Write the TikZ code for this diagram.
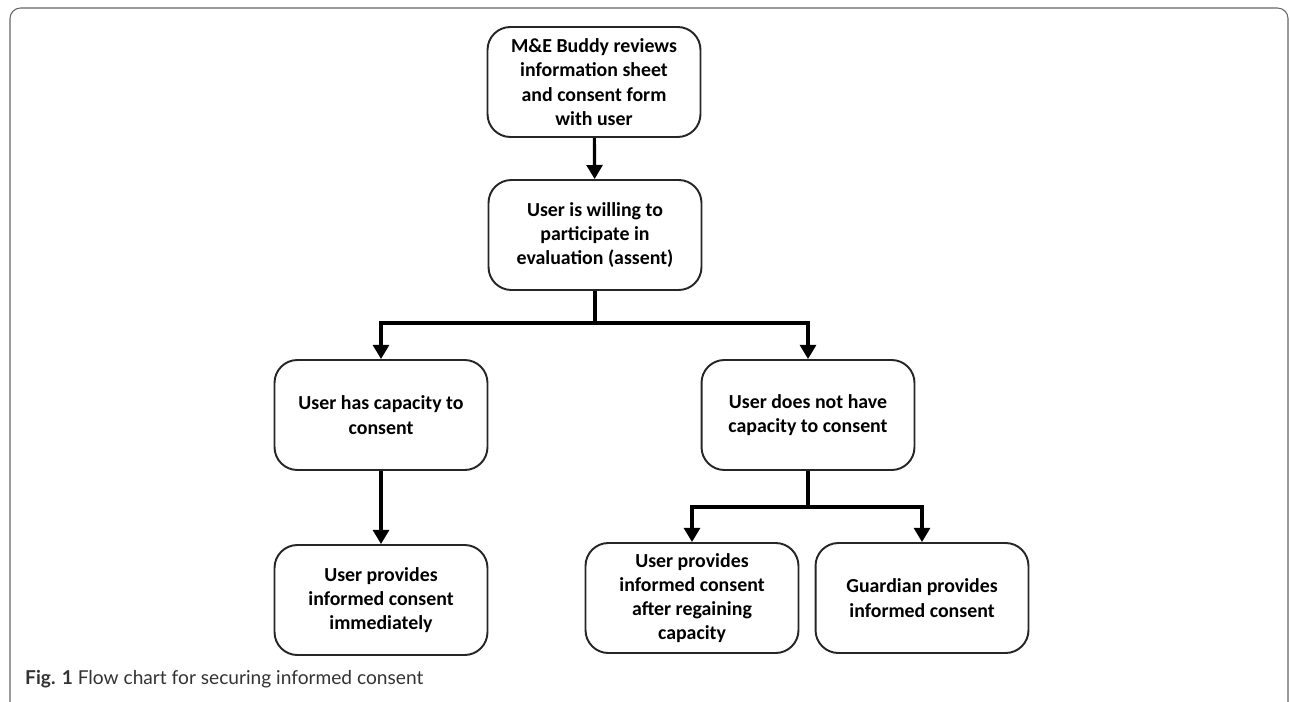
\documentclass[tikz,border=0pt]{standalone}
\usepackage{fontspec}
\setmainfont{Carlito}
\newfontfamily\capfont{Lato}
\usetikzlibrary{arrows.meta,positioning}

\begin{document}
\begin{tikzpicture}[
    x=0.02cm, y=-0.02cm,
    box/.style={rectangle, rounded corners=13pt, draw=black!85, line width=1.1pt,
                minimum width=4.26cm, minimum height=2.2cm,
                align=center, font=\fontsize{11.3pt}{13.8pt}\selectfont\bfseries},
    flow/.style={-{Triangle[width=9pt,length=8pt]}, line width=1.8pt},
    link/.style={line width=1.8pt},
    frame/.style={draw=black!60, line width=0.6pt, rounded corners=6pt}
]
  \useasboundingbox (0,0) rectangle (1290,702);

  % outer frame
  \draw[frame] (10,702) -- (10,8) -- (1288,8) -- (1288,702);

  % top of the chart
  \node[box] (review) at (594,82) {M\&E Buddy reviews\\information sheet\\and consent form\\with user};
  \node[box] (assent) at (595,235) {User is willing to\\participate in\\evaluation (assent)};

  % capacity split
  \node[box] (capable) at (381,415) {User has capacity to\\consent};
  \node[box] (incapable) at (808,415) {User does not have\\capacity to consent};

  % outcomes
  \node[box] (now) at (381,600) {User provides\\informed consent\\immediately};
  \node[box] (later) at (692,598) {User provides\\informed consent\\after regaining\\capacity};
  \node[box] (guardian) at (922,598) {Guardian provides\\informed consent};

  % connectors
  \coordinate (split1) at (595,323);
  \coordinate (split2) at (808,507);

  \draw[flow] (review) -- (assent);
  \draw[link] (assent.south) -- (split1);
  \draw[flow] (split1) -| (capable.north);
  \draw[flow] (split1) -| (incapable.north);
  \draw[flow] (capable) -- (now);
  \draw[link] (incapable.south) -- (split2);
  \draw[flow] (split2) -| (later.north);
  \draw[flow] (split2) -| (guardian.north);

  % caption
  \node[anchor=west, font=\capfont\fontsize{10.9pt}{13pt}\selectfont, text=black!80] (caption) at (19,679)
       {\textbf{Fig. 1} Flow chart for securing informed consent};

\end{tikzpicture}
\end{document}
